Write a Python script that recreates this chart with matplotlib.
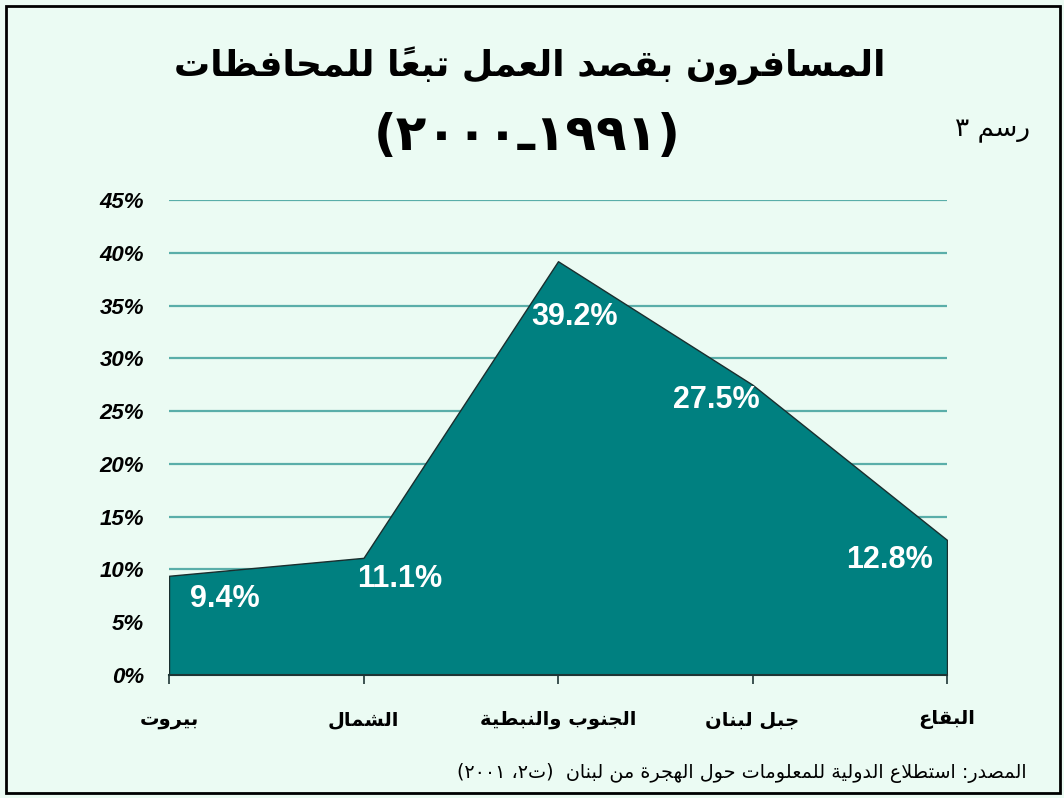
import matplotlib
matplotlib.use("Agg")
import matplotlib.pyplot as plt
from matplotlib.patches import Rectangle

# ---------------- data ----------------
categories = ["بيروت", "الشمال", "الجنوب والنبطية", "جبل لبنان", "البقاع"]
values = [9.4, 11.1, 39.2, 27.5, 12.8]
value_labels = ["9.4%", "11.1%", "39.2%", "27.5%", "12.8%"]
yticks = [0, 5, 10, 15, 20, 25, 30, 35, 40, 45]
ytick_labels = [f"{v}%" for v in yticks]
title_line1 = "المسافرون بقصد العمل تبعاً للمحافظات"
title_years = ("١٩٩١", "٢٠٠٠")
figure_label = ("رسم", "٣")
source_text = "المصدر: استطلاع الدولية للمعلومات حول الهجرة من لبنان"
source_ref = ("ت٢", "٢٠٠١")

# ---------------- minimal Arabic shaping ----------------
DUAL = {'ئ': 0xFE89, 'ب': 0xFE8F, 'ت': 0xFE95, 'ث': 0xFE99, 'ج': 0xFE9D, 'ح': 0xFEA1,
        'خ': 0xFEA5, 'س': 0xFEB1, 'ش': 0xFEB5, 'ص': 0xFEB9, 'ض': 0xFEBD, 'ط': 0xFEC1,
        'ظ': 0xFEC5, 'ع': 0xFEC9, 'غ': 0xFECD, 'ف': 0xFED1, 'ق': 0xFED5, 'ك': 0xFED9,
        'ل': 0xFEDD, 'م': 0xFEE1, 'ن': 0xFEE5, 'ه': 0xFEE9, 'ي': 0xFEF1}
RIGHT = {'آ': 0xFE81, 'أ': 0xFE83, 'ؤ': 0xFE85, 'إ': 0xFE87, 'ا': 0xFE8D, 'ة': 0xFE93,
         'د': 0xFEA9, 'ذ': 0xFEAB, 'ر': 0xFEAD, 'ز': 0xFEAF, 'و': 0xFEED, 'ى': 0xFEEF}
LAMALEF = {'آ': 0xFEF5, 'أ': 0xFEF7, 'إ': 0xFEF9, 'ا': 0xFEFB}


def is_mark(c):
    return 0x064B <= ord(c) <= 0x0652


def shape(text):
    chars = list(text)
    n = len(chars)
    clusters = []  # list of (glyph, marks)
    i = 0
    prev_dual = False
    while i < n:
        c = chars[i]
        if is_mark(c):
            if clusters:
                clusters[-1][1].append(c)
            i += 1
            continue
        j = i + 1
        while j < n and is_mark(chars[j]):
            j += 1
        nxt = chars[j] if j < n else None
        if c == 'ل' and nxt in LAMALEF:
            base = LAMALEF[nxt]
            g = chr(base + 1) if prev_dual else chr(base)
            marks = [m for m in chars[i + 1:j]]
            k = j + 1
            while k < n and is_mark(chars[k]):
                marks.append(chars[k])
                k += 1
            clusters.append([g, marks])
            prev_dual = False
            i = k
            continue
        if c in DUAL:
            base = DUAL[c]
            nj = nxt is not None and (nxt in DUAL or nxt in RIGHT)
            if prev_dual and nj:
                g = chr(base + 3)
            elif prev_dual:
                g = chr(base + 1)
            elif nj:
                g = chr(base + 2)
            else:
                g = chr(base)
            prev_dual = True
        elif c in RIGHT:
            base = RIGHT[c]
            g = chr(base + 1) if prev_dual else chr(base)
            prev_dual = False
        else:
            g = c
            prev_dual = False
        clusters.append([g, []])
        i += 1
    out = []
    for g, marks in reversed(clusters):
        out.append(g + "".join(marks))
    return "".join(out)


AR = ['DejaVu Sans']
LAT = ['Liberation Sans', 'DejaVu Sans']

# ---------------- figure ----------------
W, H = 1064, 798
fig = plt.figure(figsize=(W / 100, H / 100), dpi=100)
bg = '#ebfbf3'
fig.patch.set_facecolor(bg)
fig.patches.append(Rectangle((6 / W, 1 - 793 / H), 1054 / W, 787 / H, transform=fig.transFigure,
                             fill=False, edgecolor='black', linewidth=2))

ax = fig.add_axes([169 / W, 1 - 675 / H, 778 / W, 475 / H])
ax.set_facecolor('none')
x = list(range(len(categories)))
ax.set_xlim(0, len(categories) - 1)
ax.set_ylim(0, 45)

for t in yticks[1:]:
    ax.axhline(t, color='#5aaea9', linewidth=1.6, zorder=1)

ax.fill_between(x, 0, values, facecolor='#008080', edgecolor='#1a2e2e', linewidth=1.0, zorder=2)

for s in ['top', 'right', 'left']:
    ax.spines[s].set_visible(False)
ax.spines['bottom'].set_color('#1e3535')
ax.spines['bottom'].set_linewidth(1.5)
ax.spines['bottom'].set_zorder(3)

ax.set_yticks(yticks)
ax.set_yticklabels(ytick_labels, fontfamily=LAT, fontweight='bold', fontstyle='italic', fontsize=16)
ax.tick_params(axis='y', length=0, pad=18)
ax.set_xticks(x)
ax.set_xticklabels([shape(c) for c in categories], fontfamily=AR, fontweight='bold', fontsize=14)
ax.tick_params(axis='x', length=6.5, width=1.2, color='#1e3535', direction='out', pad=19)

offsets_px = [(56, -23), (36, -21), (17, -56), (-36, -15), (-57, -20)]
for xi, v, lab, (dx, dy) in zip(x, values, value_labels, offsets_px):
    ax.annotate(lab, (xi, v), xytext=(dx * 0.72, dy * 0.72), textcoords='offset points',
                ha='center', va='center', color='white', fontsize=22, fontweight='bold',
                fontfamily=LAT, zorder=5)

# ---------------- titles ----------------
fig.text(530 / W, 1 - 66 / H, shape(title_line1), ha='center', va='center',
         fontfamily=AR, fontweight='bold', fontsize=26)
years_visual = "(" + title_years[1] + "ـ" + title_years[0] + ")"
fig.text(527 / W, 1 - 136 / H, years_visual, ha='center', va='center',
         fontfamily=AR, fontweight='bold', fontsize=36)
fig.text(1030 / W, 1 - 130 / H, figure_label[1] + " " + shape(figure_label[0]), ha='right', va='center',
         fontfamily=AR, fontsize=19)

ref_visual = "(" + source_ref[1] + " ،" + source_ref[0][1] + shape(source_ref[0][0]) + ")"
fig.text(1027 / W, 1 - 773 / H, ref_visual + "  " + shape(source_text), ha='right', va='center',
         fontfamily=AR, fontsize=13.8)

fig.savefig('out.png', dpi=100, facecolor=bg)
